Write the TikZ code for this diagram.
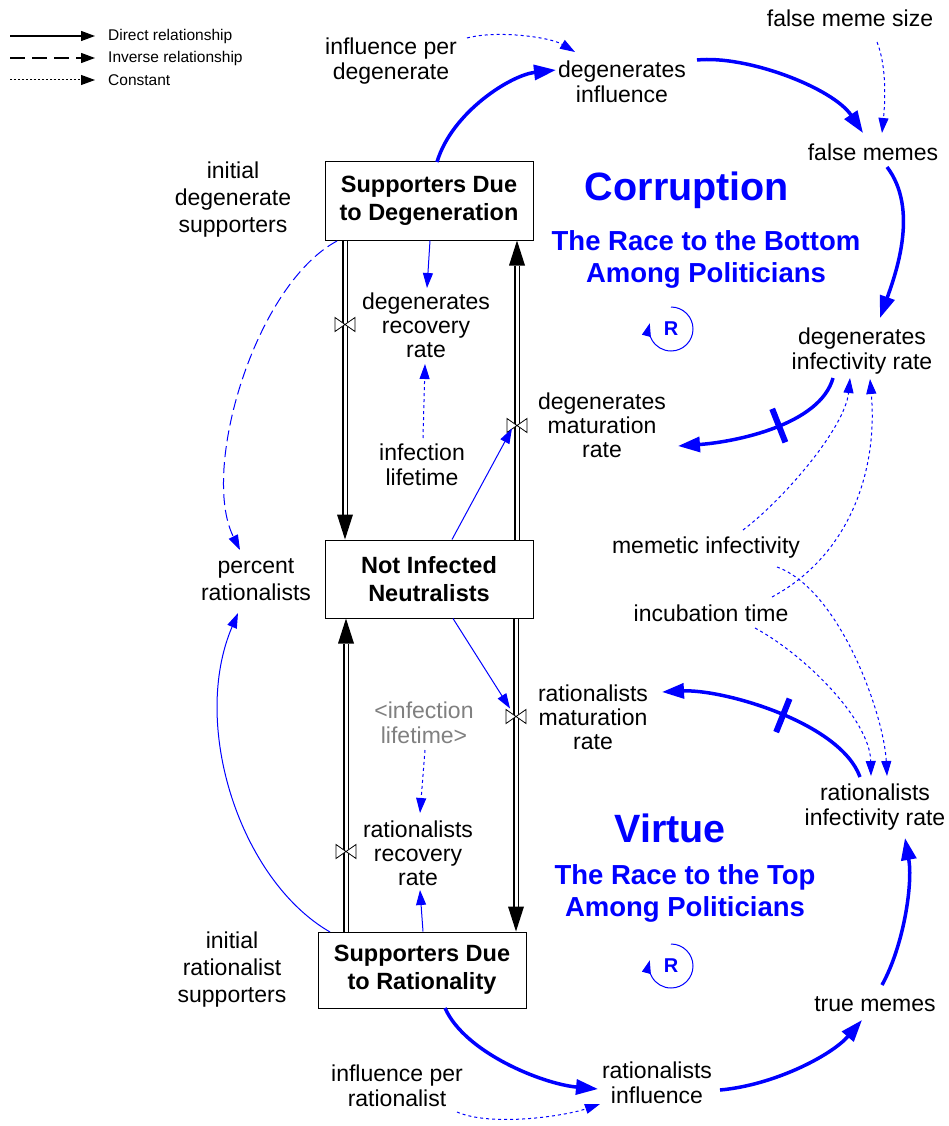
\documentclass[tikz,border=0pt]{standalone}
\usepackage{fontspec}
\setmainfont{Liberation Sans}
\usetikzlibrary{arrows.meta,decorations.markings}
\definecolor{vblue}{RGB}{0,0,255}
\definecolor{vgray}{RGB}{128,128,128}
\tikzset{
  var/.style={align=center, inner sep=0pt, font=\fontsize{23}{25.5}\selectfont},
  var3/.style={align=center, inner sep=0pt, font=\fontsize{23}{24}\selectfont},
  varw/.style={align=center, inner sep=0pt, font=\fontsize{23}{27}\selectfont},
  stock/.style={draw=black, line width=1pt, fill=white, minimum width=208pt, minimum height=78pt, align=center, inner sep=0pt, font=\fontsize{23.5}{28}\selectfont\bfseries},
  bigtitle/.style={text=vblue, inner sep=0pt, font=\fontsize{39.5}{42}\selectfont\bfseries},
  subtitle/.style={text=vblue, align=center, inner sep=0pt, font=\fontsize{27.5}{32}\selectfont\bfseries},
  loopR/.style={text=vblue, inner sep=0pt, font=\fontsize{20}{22}\selectfont\bfseries},
  legtxt/.style={anchor=west, inner sep=0pt, font=\fontsize{15.5}{17}\selectfont},
  strong/.style={draw=vblue, line width=3.5pt, -{Triangle[length=22pt,width=15pt]}},
  weak/.style={draw=vblue, line width=1pt, -{Triangle[length=15pt,width=10pt]}},
  dotlink/.style={draw=vblue, line width=1pt, dash pattern=on 3pt off 3pt, -{Triangle[length=15pt,width=10pt]}},
  dashlink/.style={draw=vblue, line width=1pt, dash pattern=on 11pt off 5pt, -{Triangle[length=15pt,width=10pt]}},
  pipe/.style={draw=black, line width=1.2pt, double=white, double distance=3pt},
  delaymark/.style={postaction={decorate}, decoration={markings, mark=at position #1 with {\draw[vblue, line width=6pt, arrows=-, solid] (0pt,-18pt) -- (0pt,18pt);}}},
  valve/.pic={\draw[black, line width=0.8pt, fill=white] (-10,-7) -- (10,7) -- (10,-7) -- (-10,7) -- cycle;},
  looparrow/.style={draw=vblue, line width=1pt, -{Triangle[length=13pt,width=9pt]}},
  legarrow/.style={draw=black, line width=1.3pt, -{Triangle[length=14pt,width=10pt]}},
}
\begin{document}
\begin{tikzpicture}[x=1pt, y=-1pt]
\fill[white] (0,0) rectangle (949,1126);
\useasboundingbox (0,0) rectangle (949,1126);

% legend
\coordinate (l1a) at (10,36); \coordinate (l1b) at (95,36);
\coordinate (l2a) at (10,58); \coordinate (l2b) at (95,58);
\coordinate (l3a) at (10,80); \coordinate (l3b) at (95,80);
\draw[legarrow] (l1a) -- (l1b);
\draw[legarrow, dash pattern=on 15pt off 7pt] (l2a) -- (l2b);
\draw[legarrow, line width=1pt, dash pattern=on 2pt off 2pt] (l3a) -- (l3b);
\node[legtxt] (lt1) at (108,36) {Direct relationship};
\node[legtxt] (lt2) at (108,58) {Inverse relationship};
\node[legtxt] (lt3) at (108,80) {Constant};

% stocks
\node[stock] (sdd) at (429,201) {Supporters Due\\to Degeneration};
\node[stock] (nin) at (429,579) {Not Infected\\Neutralists};
\node[stock, minimum height=76pt] (sdr) at (422,970) {Supporters Due\\to Rationality};

% variables
\node[var] (ipd) at (391,61) {influence per\\degenerate};
\node[var] (dinf) at (622,82) {degenerates\\influence};
\node[var] (fms) at (850,18) {false meme size};
\node[var] (fm) at (873,152) {false memes};
\node[varw] (ids) at (233,200) {initial\\degenerate\\supporters};
\node[var3] (drr) at (426,325) {degenerates\\recovery\\rate};
\node[var] (il) at (422,465) {infection\\lifetime};
\node[var] (dir) at (862,351) {degenerates\\infectivity rate};
\node[var3] (dmr) at (602,425) {degenerates\\maturation\\rate};
\node[varw] (pr) at (256,580) {percent\\rationalists};
\node[var] (mi) at (706,548) {memetic infectivity};
\node[var] (it) at (711,613) {incubation time};
\node[var, text=vgray] (ilg) at (424,723) {<infection\\lifetime>};
\node[var3] (rmr) at (593,717) {rationalists\\maturation\\rate};
\node[var] (rir) at (875,807) {rationalists\\infectivity rate};
\node[var3] (rrr) at (418,853) {rationalists\\recovery\\rate};
\node[varw] (irs) at (232,970) {initial\\rationalist\\supporters};
\node[var] (ipr) at (397,1086) {influence per\\rationalist};
\node[var] (rinf) at (657,1083) {rationalists\\influence};
\node[var] (tm) at (875,1004) {true memes};

% titles
\node[bigtitle] (corr) at (687,190) {Corruption};
\node[subtitle] (race1) at (706,259) {The Race to the Bottom\\Among Politicians};
\node[bigtitle] (virt) at (670,828) {Virtue};
\node[subtitle] (race2) at (685,893) {The Race to the Top\\Among Politicians};
\node[loopR] (r1) at (671,329) {R};
\node[loopR] (r2) at (671,966) {R};
\draw[looparrow] ([yshift=22pt]r1.center) arc[start angle=-90, end angle=195, radius=22];
\draw[looparrow] ([yshift=22pt]r2.center) arc[start angle=-90, end angle=195, radius=22];

% pipes
\coordinate (p1a) at ([xshift=-84pt]sdd.south);
\coordinate (p1b) at ([xshift=-84pt]nin.north);
\draw[pipe] (p1a) -- ([yshift=25pt]p1b);
\fill[black] (p1b) -- ++(-8,-25) -- ++(16,0) -- cycle;
\coordinate (p2a) at ([xshift=88pt]nin.north);
\coordinate (p2b) at ([xshift=88pt]sdd.south);
\draw[pipe] (p2a) -- ([yshift=-25pt]p2b);
\fill[black] (p2b) -- ++(-8,25) -- ++(16,0) -- cycle;
\coordinate (p3a) at ([xshift=-76pt]sdr.north);
\coordinate (p3b) at ([xshift=-83pt]nin.south);
\draw[pipe] (p3a) -- ([yshift=-25pt]p3b);
\fill[black] (p3b) -- ++(-8,25) -- ++(16,0) -- cycle;
\coordinate (p4a) at ([xshift=87pt]nin.south);
\coordinate (p4b) at ([xshift=94pt]sdr.north);
\draw[pipe] (p4a) -- ([yshift=25pt]p4b);
\fill[black] (p4b) -- ++(-8,-25) -- ++(16,0) -- cycle;
\coordinate (v1) at ([yshift=-84pt]p1a);
\coordinate (v2) at ([yshift=-185pt]p2b);
\coordinate (v3) at ([yshift=-98pt]p4a);
\coordinate (v4) at ([yshift=80pt]p3a);
\pic at (v1) {valve};
\pic at (v2) {valve};
\pic at (v3) {valve};
\pic at (v4) {valve};

% connectors
\draw[strong] ([shift={(8,-39)}]sdd.center) .. controls +(15,-50) and +(-45,5) .. ([shift={(-66,-12)}]dinf.center);
\draw[strong] ([shift={(75,-22)}]dinf.center) .. controls +(50,-5) and +(-30,-45) .. ([shift={(-10,-19)}]fm.center);
\draw[dotlink] ([shift={(27,24)}]fms.center) .. controls +(10,25) and +(3,-30) .. ([shift={(9,-19)}]fm.center);
\draw[dotlink] ([shift={(76,-23)}]ipd.center) .. controls +(30,-8) and +(-25,-15) .. ([shift={(-47,-30)}]dinf.center);
\draw[strong] ([shift={(14,15)}]fm.center) .. controls +(32,42) and +(16,-45) .. ([shift={(18,-33)}]dir.center);
\draw[strong, delaymark=0.42] ([shift={(-29,27)}]dir.center) .. controls +(-13,47) and +(57,-4) .. ([shift={(76,21)}]dmr.center);
\draw[dotlink] ([shift={(37,-18)}]mi.center) .. controls +(40,-30) and +(-5,50) .. ([shift={(-12,27)}]dir.center);
\draw[dotlink] ([shift={(61,-16)}]it.center) .. controls +(78,-42) and +(8,91) .. ([shift={(8,28)}]dir.center);
\draw[dotlink] ([shift={(71,19)}]mi.center) .. controls +(63,23) and +(-3,-61) .. ([shift={(12,-31)}]rir.center);
\draw[dotlink] ([shift={(44,15)}]it.center) .. controls +(50,27) and +(-1,-56) .. ([shift={(-4,-31)}]rir.center);
\draw[strong, delaymark=0.45] ([shift={(-15,-30)}]rir.center) .. controls +(-20,-55) and +(60,-3) .. ([shift={(69,-25)}]rmr.center);
\draw[strong] ([shift={(7,-19)}]tm.center) .. controls +(22,-40) and +(8,45) .. ([shift={(30,31)}]rir.center);
\draw[strong] ([shift={(63,7)}]rinf.center) .. controls +(55,-5) and +(-30,35) .. ([shift={(-13,16)}]tm.center);
\draw[strong] ([shift={(23,38)}]sdr.center) .. controls +(20,45) and +(-55,-5) .. ([shift={(-59,6)}]rinf.center);
\draw[dotlink] ([shift={(60,26)}]ipr.center) .. controls +(35,15) and +(-35,12) .. ([shift={(-57,21)}]rinf.center);
\draw[weak] ([xshift=1pt]sdd.south) -- ([shift={(1,-37)}]drr.center);
\draw[dotlink] ([shift={(1,-27)}]il.center) -- ([shift={(-1,39)}]drr.center);
\draw[weak] ([xshift=23pt]nin.north) -- ([shift={(-5,3)}]v2);
\draw[weak] ([xshift=24pt]nin.south) -- ([shift={(-6,-8)}]v3);
\draw[dotlink] ([shift={(1,27)}]ilg.center) -- ([shift={(2,-40)}]rrr.center);
\draw[weak] ([xshift=1pt]sdr.north) -- ([shift={(2,37)}]rrr.center);
\draw[dashlink] ([shift={(-92,40)}]sdd.center) .. controls +(-82,44) and +(-40,-80) .. ([shift={(-16,-30)}]pr.center);
\draw[weak] ([shift={(-92,-38)}]sdr.center) .. controls +(-90,-52) and +(-48,112) .. ([shift={(-18,33)}]pr.center);
\end{tikzpicture}
\end{document}
